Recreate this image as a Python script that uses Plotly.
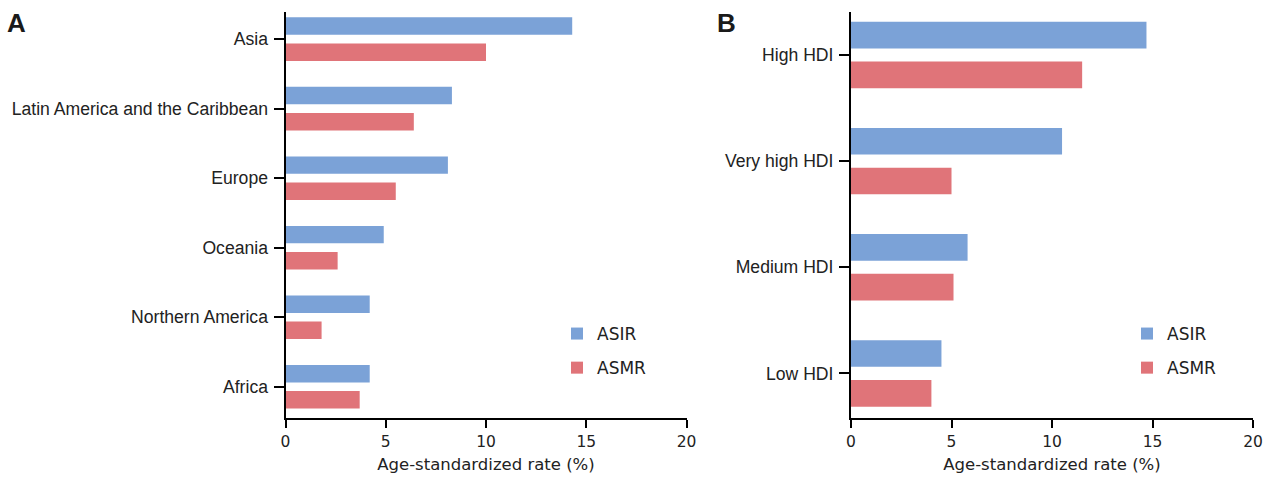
import plotly.graph_objects as go

regions = ["Asia", "Latin America and the Caribbean", "Europe", "Oceania", "Northern America", "Africa"]
region_asir = [14.3, 8.3, 8.1, 4.9, 4.2, 4.2]
region_asmr = [10.0, 6.4, 5.5, 2.6, 1.8, 3.7]

hdi_levels = ["High HDI", "Very high HDI", "Medium HDI", "Low HDI"]
hdi_asir = [14.7, 10.5, 5.8, 4.5]
hdi_asmr = [11.5, 5.0, 5.1, 4.0]

x_ticks = [0, 5, 10, 15, 20]
x_title = "Age-standardized rate (%)"

BLUE = "#7BA2D7"
RED = "#E07479"
W, H = 1273, 479
ML, MR, MT, MB = 0, 0, 12, 61

fig = go.Figure()
fig.add_trace(go.Bar(y=regions, x=region_asir, orientation="h", name="ASIR",
                     marker=dict(color=BLUE, line=dict(width=0)),
                     xaxis="x", yaxis="y", legend="legend", legendgroup="a1"))
fig.add_trace(go.Bar(y=regions, x=region_asmr, orientation="h", name="ASMR",
                     marker=dict(color=RED, line=dict(width=0)),
                     xaxis="x", yaxis="y", legend="legend", legendgroup="a2"))
fig.add_trace(go.Bar(y=hdi_levels, x=hdi_asir, orientation="h", name="ASIR",
                     marker=dict(color=BLUE, line=dict(width=0)),
                     xaxis="x2", yaxis="y2", legend="legend2", legendgroup="b1"))
fig.add_trace(go.Bar(y=hdi_levels, x=hdi_asmr, orientation="h", name="ASMR",
                     marker=dict(color=RED, line=dict(width=0)),
                     xaxis="x2", yaxis="y2", legend="legend2", legendgroup="b2"))

pw = W - ML - MR
ph = H - MT - MB

def px_x(p):
    return (p - ML) / pw

def px_y(p):
    return (H - MB - p) / ph

tickfont = dict(family="DejaVu Sans", size=15.5, color="#222222")
catfont = dict(family="Liberation Sans", size=17.6, color="#222222")
legfont = dict(family="DejaVu Sans", size=17, color="#222222")

xcommon = dict(range=[0, 20], tickvals=x_ticks, ticks="outside", ticklen=8, tickwidth=2,
               tickcolor="black", showline=True, linecolor="black", linewidth=2,
               showgrid=False, zeroline=False, tickfont=tickfont,
               title=dict(text=x_title, font=dict(family="DejaVu Sans", size=16.5, color="#222222"), standoff=9),
               automargin=False)
ycommon = dict(ticks="outside", ticklen=10, tickwidth=2, tickcolor="black", showline=True,
               linecolor="black", linewidth=2, showgrid=False, zeroline=False,
               tickfont=catfont, automargin=False, ticklabelstandoff=2)

fig.update_layout(
    width=W, height=H,
    margin=dict(l=ML, r=MR, t=MT, b=MB),
    plot_bgcolor="white", paper_bgcolor="white",
    barmode="group", bargap=0.25, bargroupgap=0.33,
    xaxis=dict(domain=[px_x(285.5), px_x(686.5)], anchor="y", **xcommon),
    yaxis=dict(domain=[0, 1], anchor="x", range=[5.45, -0.39], **ycommon),
    xaxis2=dict(domain=[px_x(851), px_x(1253)], anchor="y2", **xcommon),
    yaxis2=dict(domain=[0, 1], anchor="x2", range=[3.42, -0.405], **ycommon),
    legend=dict(x=px_x(557), y=px_y(316), xanchor="left", yanchor="top",
                font=legfont, tracegroupgap=9, bgcolor="rgba(0,0,0,0)", itemclick=False),
    legend2=dict(x=px_x(1127), y=px_y(316), xanchor="left", yanchor="top",
                 font=legfont, tracegroupgap=9, bgcolor="rgba(0,0,0,0)", itemclick=False),
    annotations=[
        dict(text="<b>A</b>", x=px_x(5), y=px_y(23), xref="paper", yref="paper",
             xanchor="left", yanchor="middle", showarrow=False,
             font=dict(family="Liberation Sans", size=26, color="#1a1a1a")),
        dict(text="<b>B</b>", x=px_x(715), y=px_y(23), xref="paper", yref="paper",
             xanchor="left", yanchor="middle", showarrow=False,
             font=dict(family="Liberation Sans", size=26, color="#1a1a1a")),
    ],
)

fig.write_html("out.html", config={"displayModeBar": False},
               post_script="document.body.style.margin='0';document.body.style.overflow='hidden';")
